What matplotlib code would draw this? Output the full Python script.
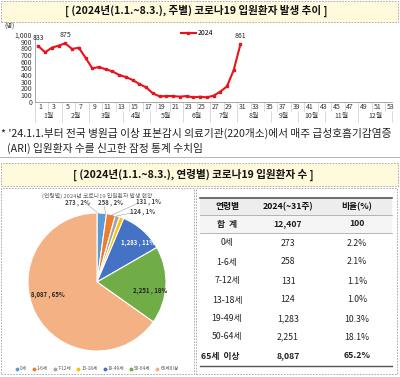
import matplotlib
matplotlib.use("Agg")
import matplotlib.pyplot as plt
from matplotlib.patches import Rectangle
from matplotlib.lines import Line2D

plt.rcParams['font.family'] = ['Noto Sans CJK KR', 'DejaVu Sans']

# ---------------- data ----------------
weeks = list(range(1, 32))
admissions = [833, 740, 810, 840, 875, 790, 810, 660, 500, 520, 485, 455, 400, 370,
              325, 265, 215, 125, 80, 85, 85, 75, 85, 65, 75, 65, 90, 150, 230, 475, 861]
labeled_weeks = [1, 5, 31]
week_ticks = list(range(1, 54, 2))
month_labels = ['1월', '2월', '3월', '4월', '5월', '6월', '7월', '8월', '9월', '10월', '11월', '12월']
month_start_weeks = [1, 5, 9, 14, 18, 23, 27, 31, 36, 40, 44, 49]
last_week = 53
y_ticks = list(range(0, 1001, 100))

age_groups = ['0세', '1-6세', '7-12세', '13-18세', '19-49세', '50-64세', '65세이상']
age_counts = [273, 258, 131, 124, 1283, 2251, 8087]
pie_pct_labels = ['2%', '2%', '1%', '1%', '11%', '18%', '65%']
pie_colors = ['#5B9BD5', '#ED7D31', '#A5A5A5', '#FFC000', '#4472C4', '#70AD47', '#F4B183']

table_header = ['연령별', '2024(~31주)', '비율(%)']
table_rows = ['합  계', '0세', '1-6세', '7-12세', '13-18세', '19-49세', '50-64세', '65세  이상']
table_counts = ['12,407', '273', '258', '131', '124', '1,283', '2,251', '8,087']
table_ratios = ['100', '2.2%', '2.1%', '1.1%', '1.0%', '10.3%', '18.1%', '65.2%']

# ---------------- figure ----------------
W, H = 400, 377
fig = plt.figure(figsize=(W / 100, H / 100), dpi=100)
fig.patch.set_facecolor('white')

def fx(x):
    return x / W

def fy(y):
    return 1 - y / H

def ftext(x, y, s, **kw):
    return fig.text(fx(x), fy(y), s, **kw)

def band(y0, y1, text, xc):
    fig.patches.append(Rectangle((fx(1), fy(y1)), fx(398) - fx(1), fy(y0) - fy(y1),
                                 transform=fig.transFigure, facecolor='#FFFADC',
                                 edgecolor='#A0A0A0', lw=0.6, ls=(0, (2, 1.5))))
    ftext(xc, (y0 + y1) / 2, text, ha='center', va='center', fontsize=7.6,
          fontweight='bold', color='#111111')

band(0.5, 22, '[ (2024년(1.1.~8.3.), 주별) 코로나19 입원환자 발생 추이 ]', 196)
band(163, 186, '[ (2024년(1.1.~8.3.), 연령별) 코로나19 입원환자 수 ]', 193)

# ---------------- line chart ----------------
y_top, y_bot = 35, 101.7
ax = fig.add_axes([fx(35), fy(y_bot), fx(392) - fx(35), (y_bot - y_top) / H])
ax.plot(weeks, admissions, color='#E8141B', lw=1.5, marker='s', ms=1.6, label='2024')
ax.set_xlim(0.5, 53.5)
ax.set_ylim(0, 1000)
ax.set_yticks(y_ticks)
ax.set_yticklabels([f'{v:,}' for v in y_ticks], fontsize=5, color='#333333')
ax.set_xticks([])
for s in ['top', 'right']:
    ax.spines[s].set_visible(False)
for s in ['left', 'bottom']:
    ax.spines[s].set_color('#999999')
    ax.spines[s].set_linewidth(0.6)
ax.tick_params(axis='y', length=0, pad=2)
ax.patch.set_alpha(0)
for w in labeled_weeks:
    v = admissions[weeks.index(w)]
    ax.annotate(f'{v}', (w, v), xytext=(0, 3), textcoords='offset points',
                ha='center', va='bottom', fontsize=5, color='#222222')
ax.legend(loc='upper left', bbox_to_anchor=(0.40, 1.13), frameon=False, fontsize=5,
          handlelength=2.2, handletextpad=0.3, borderaxespad=0)

# multi-level category axis
trans = ax.get_xaxis_transform()
for w in week_ticks:
    ax.text(w + 0.3, -0.08, str(w), transform=trans, ha='center', va='center',
            fontsize=5, color='#333333', clip_on=False)
for b in range(1, last_week + 2, 2):
    ax.plot([b - 0.5, b - 0.5], [0, -0.14], transform=trans, color='#C0C0C0',
            lw=0.4, clip_on=False)
bounds = month_start_weeks + [last_week + 1]
for i, lab in enumerate(month_labels):
    c = (bounds[i] + bounds[i + 1] - 1) / 2
    ax.text(c, -0.22, lab, transform=trans, ha='center', va='center',
            fontsize=5, color='#333333', clip_on=False)
for b in bounds:
    ax.plot([b - 0.5, b - 0.5], [-0.14, -0.30], transform=trans, color='#C0C0C0',
            lw=0.4, clip_on=False)
ftext(4, 27, '(명)', fontsize=4.5, color='#333333', va='center')

# footnote
ftext(1, 133, "* '24.1.1.부터 전국 병원급 이상 표본감시 의료기관(220개소)에서 매주 급성호흡기감염증",
      fontsize=7.7, va='center', color='#222222')
ftext(7, 148, '(ARI) 입원환자 수를 신고한 잠정 통계 수치임', fontsize=7.7, va='center',
      color='#222222')
fig.lines.append(Line2D([fx(0), fx(400)], [fy(157), fy(157)], transform=fig.transFigure,
                        color='#AAAAAA', lw=0.6))

# ---------------- bottom panels borders ----------------
dash = (0, (2, 1.5))
fig.patches.append(Rectangle((fx(1), fy(374)), fx(194) - fx(1), fy(188) - fy(374),
                             transform=fig.transFigure, fill=False, edgecolor='#A0A0A0',
                             lw=0.6, ls=dash))
fig.patches.append(Rectangle((fx(196), fy(374)), fx(397) - fx(196), fy(188) - fy(374),
                             transform=fig.transFigure, fill=False, edgecolor='#A0A0A0',
                             lw=0.6, ls=dash))

# ---------------- pie ----------------
cx, cy, r = 97, 282, 69
pax = fig.add_axes([fx(cx - r), fy(cy + r), 2 * r / W, 2 * r / H])
wedges, _ = pax.pie(age_counts, colors=pie_colors, startangle=90, counterclock=False,
                    wedgeprops=dict(edgecolor='white', linewidth=0.8))
pax.set_xlim(-1, 1)
pax.set_ylim(-1, 1)
pax.set_aspect('auto')
pax.axis('off')

def pd(px, py):
    return ((px - cx) / r, (cy - py) / r)

label_pos = [(77, 203), (110, 203), (148, 202), (143, 212), (138, 243), (150, 291), (48, 295)]
label_colors = ['#404040', '#404040', '#404040', '#404040', 'white', '#222222', '#222222']
anchor_pos = [(99, 214), (106, 214), (110, 216), (112, 217), None, None, None]
line_start = [(88, 205), (104, 206), (136, 204), (131, 213), None, None, None]
for i, (cnt, pct) in enumerate(zip(age_counts, pie_pct_labels)):
    x, y = pd(*label_pos[i])
    pax.text(x, y, f'{cnt:,} , {pct}', ha='center', va='center', fontsize=4.3,
             fontweight='bold', color=label_colors[i], clip_on=False)
    if anchor_pos[i] is not None:
        ax_, ay_ = pd(*anchor_pos[i])
        lx, ly = pd(*line_start[i])
        pax.plot([lx, ax_], [ly, ay_], color='#A0A0A0', lw=0.4, clip_on=False)

ftext(97, 196, '(연령별) 2024년 코로나19 입원환자 발생 현황', ha='center', va='center',
      fontsize=4.2, color='#666666')
handles = [Line2D([], [], ls='', marker='o', ms=1.8, color=c) for c in pie_colors]
fig.legend(handles, age_groups, loc='center', bbox_to_anchor=(fx(97), fy(369)), ncol=7,
           frameon=False, fontsize=3.4, handlelength=0.6, handletextpad=0.3,
           columnspacing=1.2, labelcolor='#555555')

# ---------------- table ----------------
col_x = [227, 288, 357]
row_y = [224, 243, 262, 281, 300, 319, 337, 356]
tx0, tx1 = 200, 392
fig.patches.append(Rectangle((fx(tx0), fy(215)), fx(tx1) - fx(tx0), fy(198) - fy(215),
                             transform=fig.transFigure, facecolor='#EDEDED', edgecolor='none'))
fig.patches.append(Rectangle((fx(tx0), fy(233)), fx(tx1) - fx(tx0), fy(215) - fy(233),
                             transform=fig.transFigure, facecolor='#F5F5F5', edgecolor='none'))
for yy, lw, c in [(198, 1.2, '#555555'), (215, 0.5, '#999999'), (233, 0.5, '#999999'),
                  (366, 1.0, '#555555')]:
    fig.lines.append(Line2D([fx(tx0), fx(tx1)], [fy(yy), fy(yy)], transform=fig.transFigure,
                            color=c, lw=lw))
for x, h in zip(col_x, table_header):
    ftext(x, 206.5, h, ha='center', va='center', fontsize=6.3, fontweight='bold',
          color='#111111')
last = len(table_rows) - 1
for i, (lab, cnt, rat) in enumerate(zip(table_rows, table_counts, table_ratios)):
    bold = (i == 0 or i == last)
    kw = dict(va='center', fontsize=6.3, color='#222222',
              fontweight='bold' if bold else 'normal')
    if i == last:
        ftext(201, row_y[i], lab, ha='left', **kw)
    else:
        ftext(col_x[0], row_y[i], lab, ha='center', **kw)
    ftext(col_x[1], row_y[i], cnt, ha='center', **kw)
    ftext(col_x[2], row_y[i], rat, ha='center', **kw)

fig.savefig('out.png', dpi=100)
